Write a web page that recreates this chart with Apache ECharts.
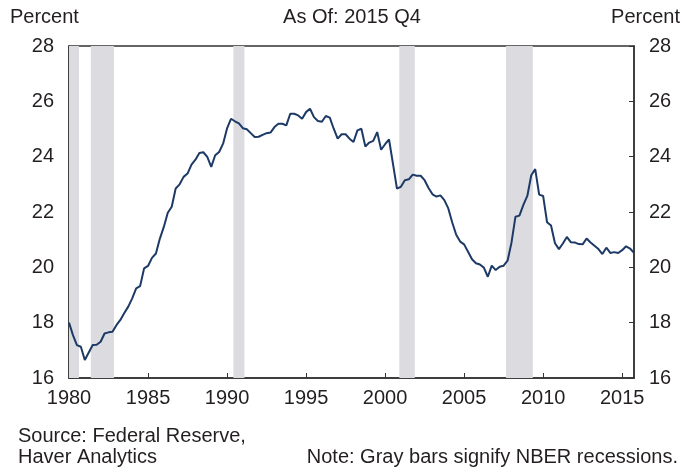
<!DOCTYPE html>
<html>
<head>
<meta charset="utf-8">
<script src="https://cdn.jsdelivr.net/npm/echarts@6/dist/echarts.min.js"></script>
<style>
  html, body { margin: 0; padding: 0; background: #fff; }
  #chart { width: 683px; height: 467px; }
</style>
</head>
<body>
<div id="chart"></div>
<script>
  // quarterly share, 1980 Q1 .. 2015 Q4 (percent)
  const share = [
    18.00, 17.55, 17.19, 17.13, 16.65, 16.92, 17.19, 17.20, 17.31, 17.61,
    17.65, 17.67, 17.91, 18.10, 18.35, 18.58, 18.88, 19.24, 19.32, 19.96,
    20.05, 20.34, 20.50, 21.04, 21.46, 21.97, 22.19, 22.85, 23.00, 23.27,
    23.39, 23.71, 23.89, 24.13, 24.16, 23.99, 23.63, 24.05, 24.17, 24.47,
    25.02, 25.37, 25.28, 25.20, 25.03, 24.99, 24.85, 24.71, 24.72, 24.79,
    24.85, 24.87, 25.07, 25.19, 25.19, 25.13, 25.55, 25.55, 25.49, 25.37,
    25.61, 25.73, 25.43, 25.29, 25.26, 25.47, 25.41, 25.01, 24.65, 24.81,
    24.81, 24.65, 24.53, 24.95, 25.01, 24.37, 24.51, 24.57, 24.89, 24.25,
    24.45, 24.62, 23.74, 22.85, 22.91, 23.15, 23.18, 23.35, 23.31, 23.31,
    23.15, 22.87, 22.64, 22.56, 22.60, 22.43, 22.13, 21.62, 21.18, 20.93,
    20.83, 20.56, 20.29, 20.15, 20.10, 19.99, 19.66, 20.06, 19.90, 20.02,
    20.06, 20.24, 20.90, 21.83, 21.87, 22.26, 22.58, 23.33, 23.55, 22.63,
    22.58, 21.63, 21.51, 20.87, 20.66, 20.86, 21.10, 20.91, 20.90, 20.84,
    20.83, 21.04, 20.90, 20.78, 20.66, 20.48, 20.71, 20.52, 20.55, 20.52,
    20.62, 20.76, 20.68, 20.52
  ];
  const firstYear = 1980;
  // quarter positions as decimal years
  const quarters = share.map((v, i) => firstYear + i / 4);
  // NBER recessions (decimal years, start / end of gray bar)
  const recessions = [
    [1980.0, 1980.63],
    [1981.38, 1982.85],
    [1990.4, 1991.1],
    [2000.9, 2001.88],
    [2007.65, 2009.35]
  ];
  const yTicks = [16, 18, 20, 22, 24, 26, 28];

  const font = 'Liberation Sans, Arial, sans-serif';
  const fs = 20;
  const ink = '#231f20';
  let myChart = echarts.init(document.getElementById('chart'));

  const yAxisBase = {
    type: 'value',
    min: yTicks[0],
    max: yTicks[yTicks.length - 1],
    interval: 2,
    axisLine: { show: true, lineStyle: { color: '#333', width: 1.5 } },
    axisTick: { show: true, inside: true, length: 5, lineStyle: { color: '#333' } },
    splitLine: { show: false },
    axisLabel: { color: ink, fontSize: fs, fontFamily: font, margin: 15 }
  };

  let option = {
    animation: false,
    grid: {
      left: 69, right: 49, top: 46, bottom: 89,
      show: true, borderColor: '#333', borderWidth: 1.5, backgroundColor: 'transparent'
    },
    graphic: [
      { type: 'text', left: 10, top: 7, style: { text: 'Percent', font: fs + 'px ' + font, fill: ink } },
      { type: 'text', right: 3, top: 7, style: { text: 'Percent', font: fs + 'px ' + font, fill: ink } },
      { type: 'text', x: 352, y: 7, style: { text: 'As Of: 2015 Q4', align: 'center', font: fs + 'px ' + font, fill: ink } },
      { type: 'text', left: 18, top: 426, style: { text: 'Source: Federal Reserve,', font: fs + 'px ' + font, fill: ink } },
      { type: 'text', left: 18, top: 447, style: { text: 'Haver Analytics', font: fs + 'px ' + font, fill: ink } },
      { type: 'text', right: 5, top: 447, style: { text: 'Note: Gray bars signify NBER recessions.', font: fs + 'px ' + font, fill: ink } }
    ],
    xAxis: {
      type: 'value',
      min: firstYear,
      max: quarters[quarters.length - 1],
      interval: 5,
      axisLine: { show: true, lineStyle: { color: '#333', width: 1.5 } },
      axisTick: { show: true, inside: true, length: 5, lineStyle: { color: '#333' } },
      splitLine: { show: false },
      axisLabel: {
        color: ink, fontSize: fs, fontFamily: font, margin: 10,
        showMaxLabel: false,
        formatter: v => (v % 5 === 0 ? String(v) : '')
      }
    },
    yAxis: [
      Object.assign({}, yAxisBase, { position: 'left' }),
      Object.assign({}, yAxisBase, { position: 'right' })
    ],
    series: [
      {
        type: 'line',
        data: share.map((v, i) => [quarters[i], v]),
        showSymbol: false,
        lineStyle: { color: '#1d3a66', width: 2 },
        markArea: {
          silent: true,
          itemStyle: { color: '#dcdce0' },
          data: recessions.map(r => [{ xAxis: r[0] }, { xAxis: r[1] }])
        }
      }
    ]
  };
  myChart.setOption(option);
</script>
</body>
</html>
